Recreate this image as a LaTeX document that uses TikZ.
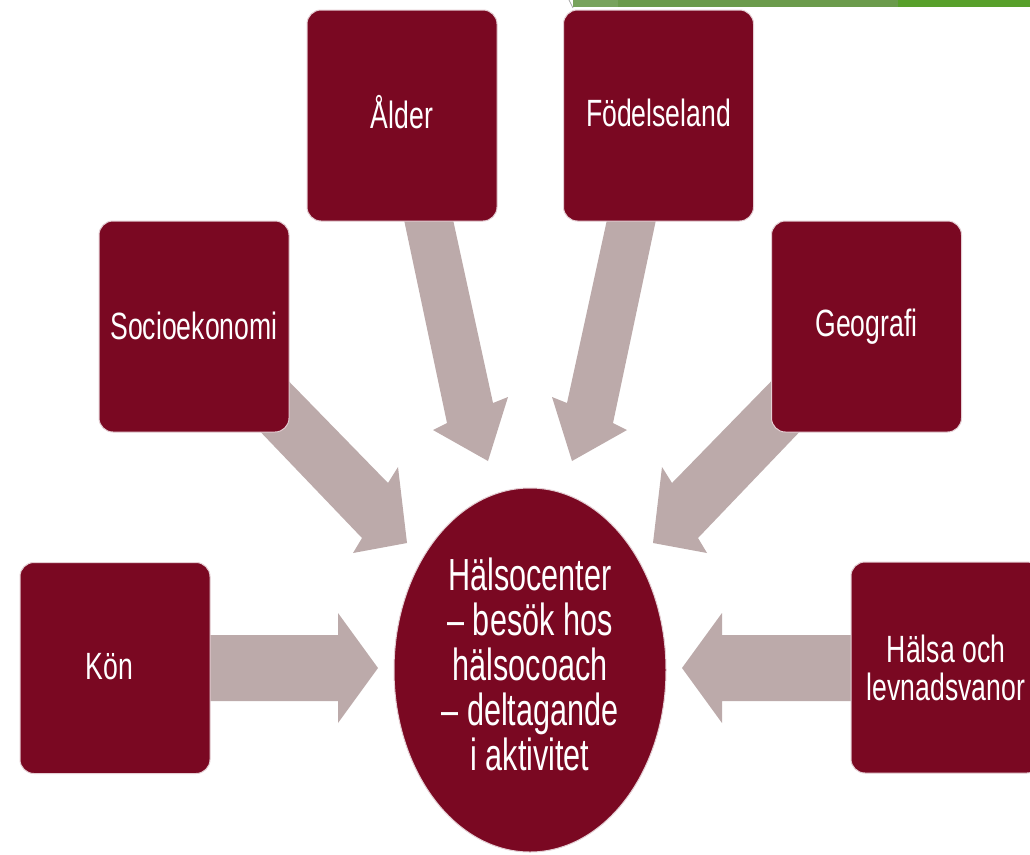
\documentclass[tikz,border=0pt]{standalone}
\usepackage{fontspec}
\setmainfont{Liberation Sans}
\newfontfamily\narrowfont[FakeStretch=0.70]{Liberation Sans}
\newfontfamily\centrefont[FakeStretch=0.68]{Liberation Sans}
\usetikzlibrary{shapes.geometric}
\definecolor{maroonc}{RGB}{122,8,34}
\definecolor{arrowc}{RGB}{188,170,170}
\definecolor{greenA}{RGB}{120,163,93}
\definecolor{greenB}{RGB}{107,155,76}
\definecolor{greenC}{RGB}{88,160,43}
\begin{document}
\begin{tikzpicture}[x=1pt,y=-1pt,
  box/.style={draw=white!80!maroonc, line width=1pt, fill=maroonc, rounded corners=14pt,
    minimum width=190pt, minimum height=211pt, inner sep=0pt, text=white,
    font=\narrowfont\fontsize{38}{38}\selectfont, align=center},
  blk/.style={fill=arrowc}]
\useasboundingbox (0,0) rectangle (1030,854);
\clip (0,0) rectangle (1030,854);
\fill[white] (0,0) rectangle (1030,854);
% green bar
\fill[greenB] (573,0) rectangle (1030,6.7);
\fill[greenA] (573,0) rectangle (618,6.7);
\fill[greenC] (898,0) rectangle (1030,6.7);
\draw[gray!70, line width=0.8pt] (569,0) -- (573,8);
% block arrows
\fill[blk] (200,635) -- (338,635) -- (338,613) -- (378,668) -- (338,723) -- (338,701) -- (200,701) -- cycle;
\fill[blk] (860,635) -- (722,635) -- (722,613) -- (682,668) -- (722,723) -- (722,701) -- (860,701) -- cycle;
\fill[blk] (271,363) -- (388,483) -- (398,467) -- (407,543) -- (353,553) -- (362,538) -- (252,423) -- cycle;
\fill[blk] (789,363) -- (672,483) -- (662,467) -- (653,543) -- (707,553) -- (698,538) -- (808,423) -- cycle;
\fill[blk] (403,215) -- (447,423) -- (433,430) -- (488,461) -- (508,397) -- (493,403) -- (452,215) -- cycle;
\fill[blk] (657,215) -- (613,423) -- (627,430) -- (572,461) -- (552,397) -- (567,403) -- (608,215) -- cycle;
% boxes
\node[box] (alder) at (402,115.5) {\raisebox{8pt}{Ålder}};
\node[box] (fodel) at (658.5,115.5) {\raisebox{5pt}{Födelseland}};
\node[box] (socio) at (194,326.5) {\raisebox{1pt}{Socioekonomi}};
\node[box] (geo) at (866.5,326.5) {\raisebox{-2pt}{Geografi}};
\node[box] (kon) at (115,668) {\raisebox{3pt}{Kön}\hspace*{11pt}};
\node[box] (halsa) at (946,667.5) {Hälsa och\\levnadsvanor};
% centre
\node[ellipse, draw=white!80!maroonc, line width=1pt, fill=maroonc, minimum width=272pt,
  minimum height=364pt, inner sep=0pt] (centre) at (530,670) {};
\node[text=white, font=\centrefont\fontsize{45}{45}\selectfont, align=center, inner sep=0pt]
  (ctext) at (530,664) {Hälsocenter\\– besök hos\\hälsocoach\\– deltagande\\i aktivitet};
\end{tikzpicture}
\end{document}
